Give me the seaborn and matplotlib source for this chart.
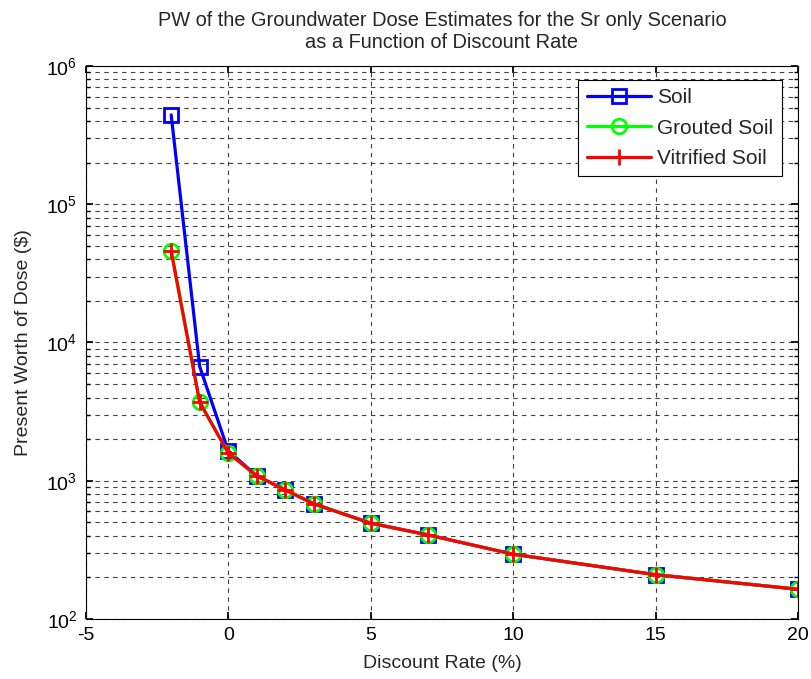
import numpy as np
import pandas as pd
import matplotlib
matplotlib.use("Agg")
import matplotlib.pyplot as plt
import seaborn as sns
from matplotlib.ticker import LogLocator, FixedLocator

# Data
rates = [-2, -1, 0, 1, 2, 3, 5, 7, 10, 15, 20]
soil = [443000, 6700, 1650, 1085, 859, 681, 493, 406, 294, 209, 164]
grouted = [45900, 3700, 1590, 1085, 859, 681, 493, 406, 294, 209, 164]
vitrified = [45900, 3700, 1590, 1085, 859, 681, 493, 406, 294, 209, 164]

series_names = ["Soil", "Grouted Soil", "Vitrified Soil"]
series_vals = [soil, grouted, vitrified]
colors = ["#0000ff", "#00ff00", "#ff0000"]
markers = ["s", "o", "+"]

sns.set_theme(style="white")
plt.rcParams["font.family"] = ["Liberation Sans", "DejaVu Sans"]
plt.rcParams["mathtext.fontset"] = "custom"
plt.rcParams["mathtext.rm"] = "Liberation Sans"

fig = plt.figure(figsize=(8.12, 6.79), dpi=100)
ax = fig.add_axes([0.1055, 0.0884, 0.8776, 0.8144])

for name, vals, c, m in zip(series_names, series_vals, colors, markers):
    df = pd.DataFrame({"rate": rates, "pw": vals})
    sns.lineplot(data=df, x="rate", y="pw", ax=ax, color=c, linewidth=2.3,
                 marker=m, markersize=10.5 if m != "+" else 12,
                 markerfacecolor="none", markeredgecolor=c,
                 markeredgewidth=2, label=name)

ax.set_yscale("log")
ax.set_xlim(-5, 20)
ax.set_ylim(1e2, 1e6)
ax.xaxis.set_major_locator(FixedLocator([-5, 0, 5, 10, 15, 20]))
ax.set_xticklabels(["-5", "0", "5", "10", "15", "20"])
ax.yaxis.set_major_locator(LogLocator(base=10, numticks=10))
ax.yaxis.set_minor_locator(LogLocator(base=10, subs=np.arange(2, 10), numticks=20))

grid_style = dict(color="0.25", linestyle=(0, (4, 4)), linewidth=0.8)
ax.grid(True, which="major", axis="both", **grid_style)
ax.grid(True, which="minor", axis="y", **grid_style)

ax.tick_params(axis="both", which="both", direction="in", labelsize=14,
               colors="black", left=True, bottom=True, top=True, right=True)
ax.tick_params(which="major", length=5, pad=6)
ax.tick_params(which="minor", length=3)
for s in ax.spines.values():
    s.set_color("black")
    s.set_linewidth(0.8)

ax.set_xlabel("Discount Rate (%)", fontsize=14, labelpad=8)
ax.set_ylabel("Present Worth of Dose ($)", fontsize=14, labelpad=10)
ax.set_title("PW of the Groundwater Dose Estimates for the Sr only Scenario\n"
             "as a Function of Discount Rate", fontsize=14.4, pad=13,
             linespacing=1.2)

leg = ax.legend(loc="upper right", bbox_to_anchor=(0.977, 0.975),
                fontsize=15, frameon=True, fancybox=False, handlelength=3.1,
                handletextpad=0.3, borderpad=0.4, labelspacing=0.55,
                borderaxespad=0)
leg.get_frame().set_edgecolor("black")
leg.get_frame().set_linewidth(0.8)
leg.get_frame().set_alpha(1)

fig.savefig("out.png", dpi=100)
